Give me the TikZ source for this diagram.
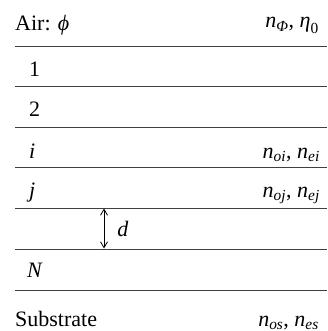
\documentclass[tikz,border=0pt]{standalone}
\usepackage{amsmath}
\usepackage{fontspec}
\setmainfont{Liberation Serif}
\usetikzlibrary{arrows.meta}
\newcommand{\mi}[1]{\textit{#1}}

\begin{document}
\begin{tikzpicture}[
  x=1pt,y=-1pt,
  layerline/.style={draw=black!75,line width=0.9pt},
  lbl/.style={anchor=base west,inner sep=0pt,font=\fontsize{22}{26}\selectfont},
  idx/.style={anchor=base east,inner sep=0pt,font=\fontsize{22}{26}\selectfont},
  arr/.style={{Straight Barb[length=6pt,width=7pt]}-{Straight Barb[length=6pt,width=7pt]},line width=0.8pt}
]
\useasboundingbox (0,0) rectangle (327,331);
% Interfaces
\foreach \y/\n in {46/l1,86/l2,127/l3,167/l4,208/l5,249/l6,290/l7}{
  \coordinate (\n w) at (15,\y);
  \coordinate (\n e) at (327,\y);
  \draw[layerline] (\n w) -- (\n e);
}
% Layer labels
\node[lbl] (air) at (15,31) {Air: \mi{ϕ}};
\node[lbl] (one) at (29,77) {1};
\node[lbl] (two) at (29,117) {2};
\node[lbl] (lyi) at (29,158) {\mi{i}};
\node[lbl] (lyj) at (29,197) {\mi{j}};
\node[lbl] (lyN) at (27,277) {\mi{N}};
\node[lbl] (sub) at (15,326) {Substrate};
% Indices
\node[idx] (nair) at (319,28) {$\mi{n}_{\mi{Φ}}$, $\mi{η}_{\textup{0}}$};
\node[idx] (ni) at (320,158) {$\mi{n}_{\mi{oi}}$, $\mi{n}_{\mi{ei}}$};
\node[idx] (nj) at (320,197) {$\mi{n}_{\mi{oj}}$, $\mi{n}_{\mi{ej}}$};
\node[idx] (ns) at (319,326) {$\mi{n}_{\mi{os}}$, $\mi{n}_{\mi{es}}$};
% Arrows
\coordinate (dtop) at (104,208.5);
\coordinate (dbot) at (104,248.5);
\draw[arr] (dtop) -- (dbot) node[midway,right=13pt,inner sep=0pt,font=\fontsize{22}{26}\selectfont]{\mi{d}};
\end{tikzpicture}
\end{document}
